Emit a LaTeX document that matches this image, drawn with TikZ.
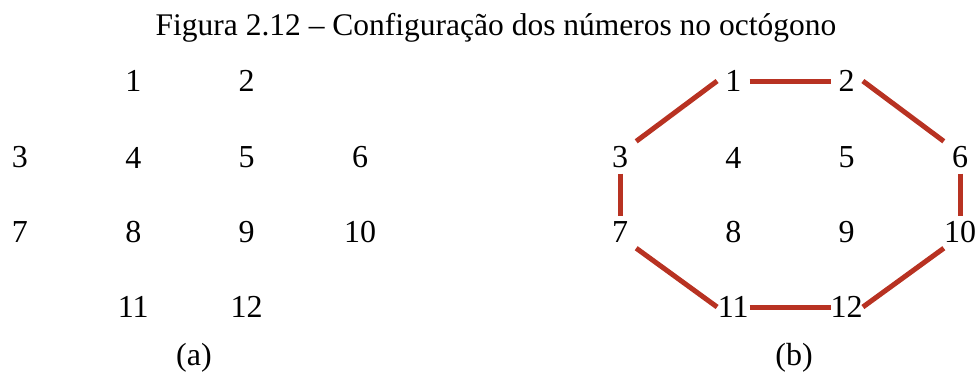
\documentclass[tikz,border=0pt]{standalone}
\usepackage{fontspec}
\setmainfont{Liberation Serif}
\definecolor{octred}{RGB}{184,50,34}
\begin{document}
\begin{tikzpicture}[x=1pt,y=1pt,
  num/.style={minimum width=32pt,minimum height=32pt,inner sep=0pt,font=\fontsize{32}{38}\selectfont},
  lbl/.style={anchor=base,inner sep=0pt,font=\fontsize{32}{38}\selectfont},
  edge/.style={draw=octred,line width=5pt}]
\useasboundingbox (0,0) rectangle (980,-376);
\node[lbl,font=\fontsize{31.5}{38}\selectfont] (title) at (496,-35) {Figura 2.12 – Configuração dos números no octógono};
% left grid
\node[num] (a1) at (133.3,-81) {1};
\node[num] (a2) at (246.7,-81) {2};
\node[num] (a3) at (20,-157.5) {3};
\node[num] (a4) at (133.3,-157.5) {4};
\node[num] (a5) at (246.7,-157.5) {5};
\node[num] (a6) at (360,-157.5) {6};
\node[num] (a7) at (20,-232) {7};
\node[num] (a8) at (133.3,-232) {8};
\node[num] (a9) at (246.7,-232) {9};
\node[num] (a10) at (360,-232) {10};
\node[num] (a11) at (133.3,-307) {11};
\node[num] (a12) at (246.7,-307) {12};
\node[lbl] (capa) at (194,-365) {(a)};
% right grid
\node[num] (b1) at (733.3,-81) {1};
\node[num] (b2) at (846.7,-81) {2};
\node[num] (b3) at (620,-157.5) {3};
\node[num] (b4) at (733.3,-157.5) {4};
\node[num] (b5) at (846.7,-157.5) {5};
\node[num] (b6) at (960,-157.5) {6};
\node[num] (b7) at (620,-232) {7};
\node[num] (b8) at (733.3,-232) {8};
\node[num] (b9) at (846.7,-232) {9};
\node[num] (b10) at (960,-232) {10};
\node[num] (b11) at (733.3,-307) {11};
\node[num] (b12) at (846.7,-307) {12};
\node[lbl] (capb) at (794,-365) {(b)};
% octagon
\draw[edge] (b1.west) -- (b3.north east);
\draw[edge] (b1.east) -- (b2.west);
\draw[edge] (b2.east) -- (b6.north west);
\draw[edge] (b3.south) -- (b7.north);
\draw[edge] (b6.south) -- (b10.north);
\draw[edge] (b7.south east) -- (b11.west);
\draw[edge] (b11.east) -- (b12.west);
\draw[edge] (b12.east) -- (b10.south west);
\end{tikzpicture}
\end{document}
